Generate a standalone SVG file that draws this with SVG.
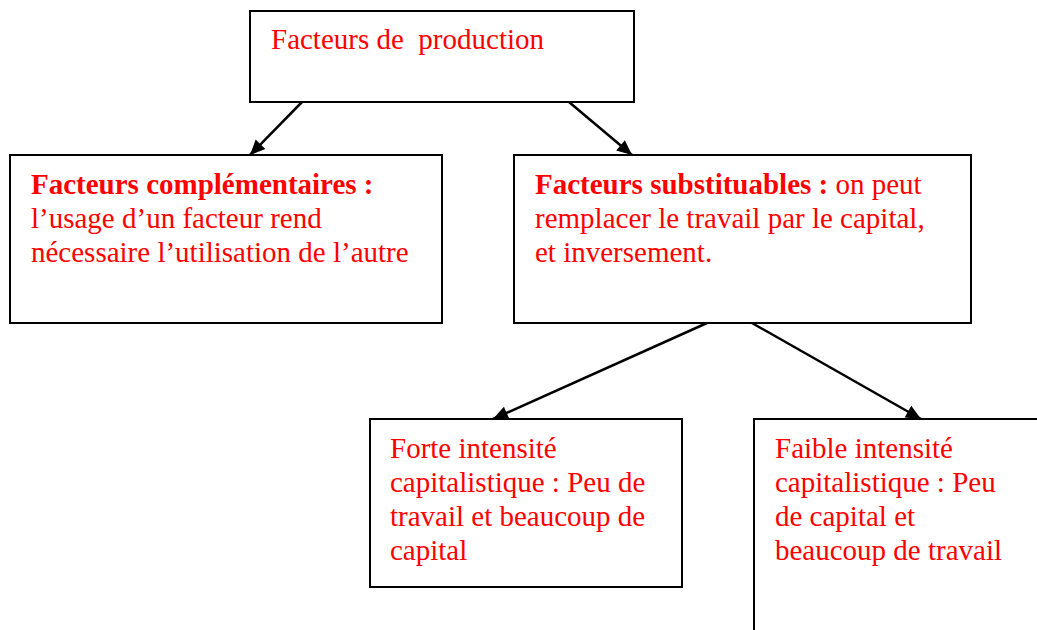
<svg xmlns="http://www.w3.org/2000/svg" width="1037" height="630" viewBox="0 0 1037 630">
<style>
.box{fill:#fff;stroke:#000;stroke-width:2}
.t{font-family:"Liberation Serif","Times New Roman",serif;font-size:29px;fill:#ff0000}
.b{font-weight:bold}
.c{stroke:#000;stroke-width:2.5;fill:none}
</style>
<defs>
<marker id="ah" viewBox="0 0 10 10" refX="10" refY="5" markerWidth="6.5" markerHeight="6" markerUnits="strokeWidth" orient="auto">
<path d="M0,0.5 L10,5 L0,9.5 z" fill="#000"/>
</marker>
</defs>
<rect width="1037" height="630" fill="#fff"/>
<g id="connectors">
<line class="c" x1="302" y1="102" x2="250" y2="155" marker-end="url(#ah)"/>
<line class="c" x1="569" y1="102" x2="632" y2="155" marker-end="url(#ah)"/>
<line class="c" x1="707" y1="323" x2="493" y2="419" marker-end="url(#ah)"/>
<line class="c" x1="752" y1="323" x2="921" y2="419" marker-end="url(#ah)"/>
</g>
<g id="n-production">
<rect class="box" x="250" y="11" width="384" height="91"/>
<text class="t" x="271" y="49" xml:space="preserve">Facteurs de  production</text>
</g>
<g id="n-complementaires">
<rect class="box" x="10" y="155" width="432" height="168"/>
<text class="t" x="31" y="194"><tspan class="b">Facteurs complémentaires :</tspan></text>
<text class="t" x="31" y="228">l’usage d’un facteur rend</text>
<text class="t" x="31" y="262">nécessaire l’utilisation de l’autre</text>
</g>
<g id="n-substituables">
<rect class="box" x="514" y="155" width="457" height="168"/>
<text class="t" x="535" y="194"><tspan class="b">Facteurs substituables :</tspan> on peut</text>
<text class="t" x="535" y="228">remplacer le travail par le capital,</text>
<text class="t" x="535" y="262">et inversement.</text>
</g>
<g id="n-forte">
<rect class="box" x="370" y="419" width="312" height="168"/>
<text class="t" x="390" y="458">Forte intensité</text>
<text class="t" x="390" y="492">capitalistique : Peu de</text>
<text class="t" x="390" y="526">travail et beaucoup de</text>
<text class="t" x="390" y="560">capital</text>
</g>
<g id="n-faible">
<rect class="box" x="754" y="419" width="300" height="230"/>
<text class="t" x="775" y="458">Faible intensité</text>
<text class="t" x="775" y="492">capitalistique : Peu</text>
<text class="t" x="775" y="526">de capital et</text>
<text class="t" x="775" y="560">beaucoup de travail</text>
</g>
</svg>
